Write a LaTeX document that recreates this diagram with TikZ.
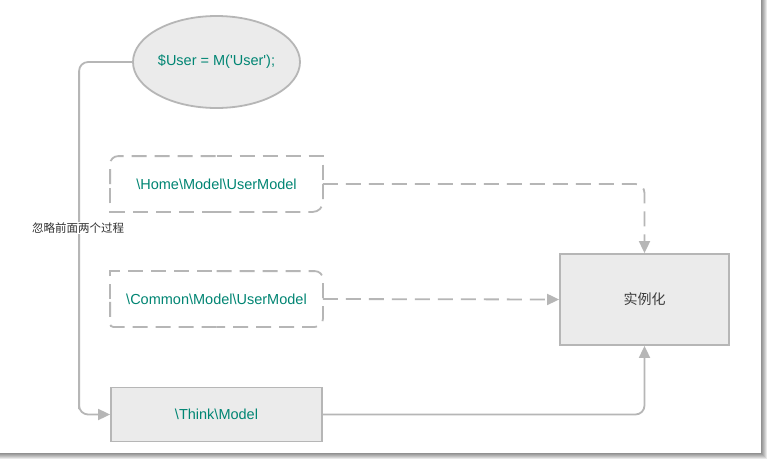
\documentclass[tikz,border=0pt]{standalone}
\usepackage{fontspec}
\setmainfont{Liberation Sans}
\newfontfamily\cjk{Noto Sans CJK SC}
\usetikzlibrary{arrows.meta,shapes.geometric}
\definecolor{codeteal}{RGB}{0,133,115}
\definecolor{lineg}{RGB}{182,182,182}
\definecolor{boxg}{RGB}{235,235,235}
\tikzset{
  box/.style={draw=lineg, line width=1.8pt, minimum width=211pt, minimum height=54pt, inner sep=0pt,
    text=codeteal, font=\fontsize{14.5}{17}\selectfont},
  dbox/.style={box, draw=none},
  dline/.style={draw=lineg, line width=1.8pt, dash pattern=on 15pt off 8pt},
  conn/.style={draw=lineg, line width=1.8pt, rounded corners=9pt, -{Triangle[length=12pt,width=11pt]}},
  dconn/.style={conn, dash pattern=on 15pt off 8pt}
}
\begin{document}
\begin{tikzpicture}[x=1pt,y=1pt,yscale=-1,xscale=1]
%uncomment if require: \path (0,463); %set diagram left start at 0, and has height of 463
\useasboundingbox (0,0) rectangle (770,463);

%Shadow of the frame
\foreach \s in {6,5,4,3,2,1} {
  \fill [black, opacity=0.09] (0,0) rectangle (761+\s,453+\s);
}
\fill [white] (0,0) rectangle (761,453);

%Ellipse
\node [ellipse, draw=lineg, fill=boxg, line width=1.8pt, minimum width=167pt, minimum height=92pt, inner sep=0pt,
  text=codeteal, font=\fontsize{14.5}{17}\selectfont] (user) at (216.5,62) {\$User = M(\textquotesingle User\textquotesingle);};
%Dashed Boxes
\node [dbox] (home) at (216.5,184) {\textbackslash Home\textbackslash Model\textbackslash UserModel};
\draw [dline, rounded corners=8pt] (home.west) -- (home.north west) -- (home.north);
\draw [dline] (home.north) -- (home.north east) -- (home.east);
\draw [dline, rounded corners=10pt] (home.east) -- (home.south east) -- (home.south);
\draw [dline] (home.south) -- (home.south west) -- (home.west);
\node [dbox] (common) at (216.5,299) {\textbackslash Common\textbackslash Model\textbackslash UserModel};
\draw [dline] (common.west) -- (common.north west) -- (common.north);
\draw [dline, rounded corners=8pt] (common.north) -- (common.north east) -- (common.south east) -- (common.south);
\draw [dline, rounded corners=3pt] (common.south) -- (common.south west) -- (common.west);
%Solid Boxes
\node [box, fill=boxg] (think) at (216.5,414.5) {\textbackslash Think\textbackslash Model};
\node [box, fill=boxg, minimum width=169pt, minimum height=91pt, text={rgb,255:red,60;green,60;blue,60},
  font=\cjk\fontsize{14}{17}\selectfont] (inst) at (644.5,299.5) {实例化};

%Connectors
\draw [conn] (user.west) -| ([xshift=-31pt]think.west) |- (think.west);
\draw [dconn] (home.east) -| (inst.north);
\draw [dconn] (common.east) -- (inst.west);
\draw [conn] (think.east) -| (inst.south);

% Text Node
\node [fill=white, inner sep=1pt, text={rgb,255:red,50;green,50;blue,50}, font=\cjk\fontsize{11.5}{14}\selectfont] (skip) at (78,228) {忽略前面两个过程};

\end{tikzpicture}
\end{document}
